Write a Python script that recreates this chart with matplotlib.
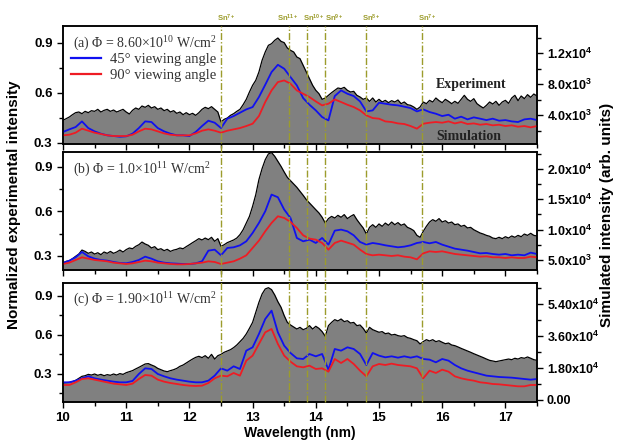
import numpy as np
import matplotlib
matplotlib.use("Agg")
import matplotlib.pyplot as plt
from matplotlib.lines import Line2D
from matplotlib.ticker import FixedLocator, MultipleLocator
from matplotlib.transforms import blended_transform_factory

# wavelength sampling (nm)
wavelength_exp = np.linspace(10.0, 17.5, 151)
wavelength_sim = np.linspace(10.0, 17.5, 76)

# (a) 8.60e10 W/cm2 -- experiment normalized, simulation in arb. units
exp_a = [
    0.436, 0.446, 0.456, 0.470, 0.482, 0.486, 0.476, 0.490, 0.482, 0.494,
    0.490, 0.502, 0.486, 0.496, 0.502, 0.490, 0.498, 0.486, 0.494, 0.502,
    0.486, 0.474, 0.496, 0.510, 0.502, 0.522, 0.514, 0.526, 0.510, 0.518,
    0.502, 0.510, 0.494, 0.502, 0.486, 0.494, 0.478, 0.486, 0.470, 0.482,
    0.470, 0.478, 0.466, 0.482, 0.502, 0.514, 0.506, 0.518, 0.502, 0.486,
    0.426, 0.442, 0.450, 0.466, 0.476, 0.490, 0.502, 0.530, 0.562, 0.606,
    0.646, 0.676, 0.726, 0.796, 0.846, 0.886, 0.896, 0.916, 0.930, 0.910,
    0.902, 0.870, 0.856, 0.846, 0.816, 0.806, 0.766, 0.726, 0.686, 0.646,
    0.616, 0.596, 0.562, 0.570, 0.586, 0.602, 0.616, 0.630, 0.626, 0.634,
    0.616, 0.606, 0.610, 0.586, 0.576, 0.562, 0.570, 0.550, 0.570, 0.546,
    0.562, 0.546, 0.556, 0.542, 0.554, 0.546, 0.558, 0.536, 0.546, 0.530,
    0.526, 0.516, 0.502, 0.516, 0.546, 0.536, 0.556, 0.546, 0.570, 0.554,
    0.542, 0.562, 0.550, 0.536, 0.550, 0.538, 0.562, 0.586, 0.562, 0.550,
    0.566, 0.536, 0.522, 0.510, 0.526, 0.546, 0.534, 0.550, 0.526, 0.546,
    0.556, 0.538, 0.570, 0.586, 0.554, 0.582, 0.566, 0.590, 0.574, 0.594, 0.582,
]
sim45_a = [
    1810, 2150, 2450, 3180, 2320, 1890, 1590, 1380, 1290, 1200,
    1250, 1590, 2320, 3180, 3100, 2320, 1890, 1590, 1380, 1380,
    1290, 1810, 2580, 3270, 3010, 2320, 3530, 3870, 4300, 4730,
    5030, 6320, 7910, 9550, 10490, 9980, 8900, 7830, 6190, 5330,
    4600, 3740, 3310, 6450, 7180, 6750, 6450, 5760, 4470, 4600,
    5590, 5460, 5330, 5250, 5080, 4900, 4470, 4730, 4390, 4170,
    3870, 4040, 3530, 3790, 3440, 3700, 3530, 3350, 3530, 3270,
    3350, 3180, 3100, 3440, 3530, 3350,
]
sim90_a = [
    1380, 1460, 1720, 2240, 1980, 1720, 1550, 1380, 1290, 1290,
    1290, 1460, 1890, 2240, 2150, 1890, 1630, 1460, 1380, 1380,
    1380, 1630, 1980, 2150, 1980, 1720, 1980, 2150, 2320, 2580,
    2880, 3870, 5680, 7180, 8260, 8470, 8040, 7180, 6750, 6320,
    5760, 5250, 5460, 6020, 5680, 5330, 5030, 4600, 3960, 3610,
    3530, 3180, 3100, 2920, 2840, 2580, 2240, 2880, 3010, 3100,
    3010, 3180, 2920, 3100, 2840, 2920, 2750, 2840, 2670, 2750,
    2580, 2670, 2490, 2580, 2410, 2580,
]

# (b) 1.0e11 W/cm2
exp_b = [
    0.253, 0.264, 0.268, 0.282, 0.298, 0.313, 0.340, 0.331, 0.318, 0.327,
    0.313, 0.322, 0.309, 0.327, 0.318, 0.331, 0.318, 0.327, 0.340, 0.327,
    0.343, 0.354, 0.349, 0.365, 0.376, 0.394, 0.381, 0.372, 0.354, 0.363,
    0.343, 0.349, 0.336, 0.345, 0.331, 0.340, 0.345, 0.354, 0.349, 0.363,
    0.376, 0.390, 0.403, 0.417, 0.408, 0.421, 0.410, 0.426, 0.399, 0.417,
    0.365, 0.376, 0.390, 0.399, 0.408, 0.421, 0.444, 0.477, 0.522, 0.567,
    0.635, 0.713, 0.815, 0.889, 0.949, 0.988, 0.997, 0.972, 0.938, 0.904,
    0.866, 0.830, 0.808, 0.785, 0.763, 0.736, 0.709, 0.680, 0.657, 0.635,
    0.612, 0.590, 0.561, 0.522, 0.552, 0.567, 0.556, 0.574, 0.561, 0.579,
    0.552, 0.567, 0.579, 0.545, 0.516, 0.489, 0.448, 0.493, 0.511, 0.493,
    0.516, 0.500, 0.522, 0.507, 0.529, 0.511, 0.525, 0.507, 0.516, 0.493,
    0.484, 0.471, 0.439, 0.426, 0.466, 0.500, 0.529, 0.545, 0.534, 0.552,
    0.529, 0.538, 0.522, 0.529, 0.511, 0.516, 0.500, 0.507, 0.489, 0.493,
    0.477, 0.466, 0.455, 0.448, 0.439, 0.433, 0.421, 0.417, 0.426, 0.417,
    0.430, 0.421, 0.435, 0.426, 0.439, 0.430, 0.448, 0.439, 0.453, 0.439, 0.435,
]
sim45_b = [
    4505, 4890, 5440, 6320, 5605, 5220, 5000, 4890, 4670, 4505,
    4450, 4670, 5000, 5550, 5220, 4780, 4560, 4450, 4395, 4340,
    4340, 4450, 4780, 6540, 6705, 5770, 6980, 7090, 7420, 8080,
    9455, 11105, 13030, 15780, 15340, 13305, 11930, 8630, 8080, 8355,
    7805, 8630, 7530, 9840, 10005, 9730, 9070, 7970, 7530, 7805,
    7640, 7420, 7255, 7090, 7200, 7420, 7805, 7970, 7750, 7970,
    7530, 7200, 6870, 6705, 6540, 6320, 6100, 6155, 5990, 5880,
    5990, 5770, 5880, 5770, 6210, 5990,
]
sim90_b = [
    4340, 4560, 5000, 5440, 5220, 5000, 4890, 4780, 4560, 4450,
    4340, 4450, 4670, 4890, 4780, 4560, 4450, 4340, 4285, 4285,
    4340, 4450, 4560, 4780, 4670, 4340, 4560, 4780, 5220, 5770,
    6980, 8190, 9730, 11105, 12205, 11930, 11270, 10280, 9070, 8520,
    8355, 7805, 6705, 7805, 8190, 7860, 7530, 6705, 5990, 5770,
    5880, 5770, 5660, 5770, 5550, 5440, 5110, 6100, 6430, 6320,
    6430, 6210, 5990, 5880, 5770, 5660, 5550, 5605, 5440, 5440,
    5330, 5440, 5330, 5330, 5550, 5440,
]

# (c) 1.90e11 W/cm2
exp_c = [
    0.231, 0.233, 0.236, 0.241, 0.251, 0.267, 0.282, 0.287, 0.297, 0.292,
    0.300, 0.290, 0.297, 0.287, 0.295, 0.290, 0.300, 0.292, 0.303, 0.297,
    0.310, 0.318, 0.326, 0.339, 0.351, 0.364, 0.377, 0.380, 0.369, 0.359,
    0.343, 0.333, 0.323, 0.318, 0.326, 0.333, 0.343, 0.359, 0.369, 0.385,
    0.400, 0.415, 0.428, 0.436, 0.426, 0.441, 0.421, 0.451, 0.415, 0.441,
    0.451, 0.467, 0.477, 0.487, 0.503, 0.523, 0.549, 0.574, 0.608, 0.651,
    0.697, 0.774, 0.851, 0.915, 0.954, 0.964, 0.949, 0.908, 0.856, 0.813,
    0.749, 0.697, 0.677, 0.661, 0.646, 0.659, 0.641, 0.651, 0.672, 0.646,
    0.667, 0.651, 0.626, 0.590, 0.672, 0.697, 0.718, 0.708, 0.723, 0.703,
    0.710, 0.692, 0.697, 0.672, 0.677, 0.651, 0.615, 0.659, 0.641, 0.631,
    0.621, 0.626, 0.610, 0.615, 0.600, 0.605, 0.595, 0.590, 0.595, 0.580,
    0.574, 0.564, 0.556, 0.531, 0.549, 0.564, 0.554, 0.564, 0.549, 0.556,
    0.544, 0.533, 0.538, 0.523, 0.518, 0.508, 0.497, 0.487, 0.477, 0.467,
    0.456, 0.446, 0.436, 0.426, 0.415, 0.405, 0.400, 0.395, 0.400, 0.405,
    0.410, 0.415, 0.410, 0.421, 0.415, 0.426, 0.421, 0.431, 0.421, 0.410, 0.405,
]
sim45_c = [
    9940, 9940, 10875, 12190, 13310, 12190, 11440, 10875, 10310, 9940,
    9940, 10690, 14625, 17810, 17440, 14625, 13310, 12190, 11440, 10875,
    10310, 9940, 9940, 10875, 13690, 17810, 16500, 18940, 17440, 27750,
    29625, 37125, 45560, 50250, 38060, 30560, 26440, 23440, 23060, 25875,
    24560, 25875, 17060, 28690, 27750, 29625, 28690, 25875, 19690, 26440,
    24940, 24000, 24560, 23810, 24560, 23810, 24560, 23060, 22690, 21190,
    23060, 22125, 19690, 17810, 16500, 15560, 14625, 13690, 13310, 12940,
    12750, 12560, 12190, 11810, 11440, 11810,
]
sim90_c = [
    8440, 8440, 9940, 11810, 12190, 11440, 10690, 9940, 9190, 8810,
    8440, 9190, 11810, 14060, 13690, 11440, 10310, 9560, 9000, 8440,
    8060, 7875, 8060, 9560, 12190, 13690, 13310, 15190, 13690, 22125,
    24940, 31500, 38060, 39940, 31500, 24940, 21560, 18940, 18375, 19310,
    17440, 17810, 15940, 23060, 20810, 23060, 20250, 16500, 13310, 18940,
    20250, 19690, 20440, 19690, 19310, 18940, 17810, 12190, 16500, 15190,
    17060, 15940, 13310, 12190, 11440, 10875, 9940, 9560, 9000, 8810,
    8440, 8060, 7690, 7690, 8440, 8440,
]

panel_titles = [
    "(a) \u03a6 = 8.60\u00d710$^{\\mathregular{10}}$ W/cm$^{\\mathregular{2}}$",
    "(b) \u03a6 = 1.0\u00d710$^{\\mathregular{11}}$ W/cm$^{\\mathregular{2}}$",
    "(c) \u03a6 = 1.90\u00d710$^{\\mathregular{11}}$ W/cm$^{\\mathregular{2}}$",
]

right_ticks_a = [4000, 8000, 12000]
right_labels_a = ["4.0x10$^{3}$", "8.0x10$^{3}$", "1.2x10$^{4}$"]
right_ticks_b = [5000, 10000, 15000, 20000]
right_labels_b = ["5.0x10$^{3}$", "1.0x10$^{4}$", "1.5x10$^{4}$", "2.0x10$^{4}$"]
right_ticks_c = [0, 18000, 36000, 54000]
right_labels_c = ["0.00", "1.80x10$^{4}$", "3.60x10$^{4}$", "5.40x10$^{4}$"]

# Sn ion emission positions (nm)
ion_lines = [12.5, 13.58, 13.855, 14.15, 14.8, 15.68]
ion_labels = ["Sn$^{7+}$", "Sn$^{11+}$", "Sn$^{10+}$", "Sn$^{9+}$", "Sn$^{8+}$", "Sn$^{7+}$"]

BLUE = "#1010f0"
RED = "#ee1c24"
GRAY = "#808080"
OLIVE = "#9c9c2c"
TXT = "#333333"
SERIF = "Liberation Serif"


def setup_fonts():
    plt.rcParams["font.family"] = ["Liberation Sans", "DejaVu Sans"]
    plt.rcParams["font.weight"] = "bold"
    plt.rcParams["mathtext.fontset"] = "custom"
    plt.rcParams["mathtext.rm"] = "Liberation Sans:bold"
    plt.rcParams["mathtext.it"] = "Liberation Sans:bold"
    plt.rcParams["mathtext.bf"] = "Liberation Sans:bold"
    plt.rcParams["axes.linewidth"] = 1.1


def draw_panel(fig, rect, exp, s45, s90, ylim, rlim, rticks, rlabels, title,
               last=False):
    ax = fig.add_axes(rect)
    ax.fill_between(wavelength_exp, exp, ylim[0], color=GRAY, lw=0)
    ax.plot(wavelength_exp, exp, color="black", lw=0.9)
    ax.set_xlim(10, 17.5)
    ax.set_ylim(*ylim)
    ax.xaxis.set_major_locator(MultipleLocator(1))
    ax.xaxis.set_minor_locator(MultipleLocator(0.5))
    ax.yaxis.set_major_locator(FixedLocator([0.3, 0.6, 0.9]))
    ax.yaxis.set_minor_locator(FixedLocator([0.15, 0.45, 0.75]))
    ax.tick_params(which="both", direction="out", top=False, right=False,
                   labelsize=9.5, width=1)
    ax.tick_params(which="major", length=4)
    ax.tick_params(which="minor", length=3)
    if not last:
        ax.tick_params(labelbottom=False)

    tw = ax.twinx()
    tw.plot(wavelength_sim, s45, color=BLUE, lw=1.3)
    tw.plot(wavelength_sim, s90, color=RED, lw=1.3)
    tw.set_ylim(*rlim)
    tw.yaxis.set_major_locator(FixedLocator(rticks))
    step = rticks[1] - rticks[0]
    minors = [t + step / 2 for t in rticks] + [rticks[0] - step / 2]
    tw.yaxis.set_minor_locator(FixedLocator(minors))
    tw.set_yticklabels(rlabels)
    tw.tick_params(which="both", direction="out", labelsize=9, width=1, pad=3)
    tw.tick_params(which="major", length=4)
    tw.tick_params(which="minor", length=3)

    ax.text(0.021, 0.87 if last else 0.86, title, transform=ax.transAxes,
            family=SERIF, fontweight="normal", fontsize=10, color=TXT,
            va="center", ha="left")
    return ax, tw


def main():
    setup_fonts()
    fig = plt.figure(figsize=(6.17, 4.41), dpi=100)
    left, width = 63 / 617, 474 / 617
    specs = [
        (exp_a, sim45_a, sim90_a, (0.294, 1.002), (260, 15500),
         right_ticks_a, right_labels_a, 144, 26),
        (exp_b, sim45_b, sim90_b, (0.2056, 1.001), (3350, 22800),
         right_ticks_b, right_labels_b, 270, 152),
        (exp_c, sim45_c, sim90_c, (0.0846, 1.0), (-1130, 65800),
         right_ticks_c, right_labels_c, 402, 283),
    ]
    axes = []
    for i, (e, b, r, yl, rl, rt, rlab, bot, top) in enumerate(specs):
        rect = [left, 1 - bot / 441, width, (bot - top) / 441]
        axes.append(draw_panel(fig, rect, e, b, r, yl, rl, rt, rlab,
                               panel_titles[i], last=(i == 2)))

    ax_a, tw_a = axes[0]
    handles = [Line2D([], [], color=BLUE, lw=1.6), Line2D([], [], color=RED, lw=1.6)]
    ax_a.legend(handles, ["45\u00b0 viewing angle", "90\u00b0 viewing angle"],
                loc="upper left", bbox_to_anchor=(0.016, 0.77), frameon=False,
                borderpad=0, borderaxespad=0, handlelength=2.1,
                handletextpad=0.6, labelspacing=0.15,
                prop={"family": SERIF, "size": 10.5, "weight": "normal"},
                labelcolor=TXT)
    ax_a.text(0.861, 0.505, "Experiment", transform=ax_a.transAxes,
              family=SERIF, fontweight="bold", fontsize=10, color="#222222",
              ha="center", va="center")
    ax_a.text(0.857, 0.06, "Simulation", transform=ax_a.transAxes,
              family=SERIF, fontweight="bold", fontsize=10, color="#222222",
              ha="center", va="center")

    # ion lines spanning all three panels, label nudges in nm
    label_shift = [0.08, -0.03, 0.12, 0.14, 0.08, 0.08]
    ax_c = axes[2][0]
    trans = blended_transform_factory(ax_c.transData, fig.transFigure)
    for xl, lab, dx in zip(ion_lines, ion_labels, label_shift):
        fig.add_artist(Line2D([xl, xl], [1 - 402 / 441, 1 - 26 / 441],
                              transform=trans, color=OLIVE, lw=1.0,
                              ls=(0, (5, 1.5, 1, 1.5))))
        fig.text(xl + dx, 1 - 18 / 441, lab, transform=trans, color=OLIVE,
                 fontsize=5.5, ha="center", va="center")

    fig.text(14 / 617, 1 - 205 / 441, "Normalized experimental intensity",
             rotation=90, fontsize=11, ha="center", va="center")
    fig.text(607 / 617, 1 - 215 / 441, "Simulated intensity (arb. units)",
             rotation=90, fontsize=11, ha="center", va="center")
    fig.text(300 / 617, 1 - 433 / 441, "Wavelength (nm)", fontsize=10,
             ha="center", va="center")

    fig.savefig("out.png", dpi=100)
    plt.close(fig)


if __name__ == "__main__":
    main()
